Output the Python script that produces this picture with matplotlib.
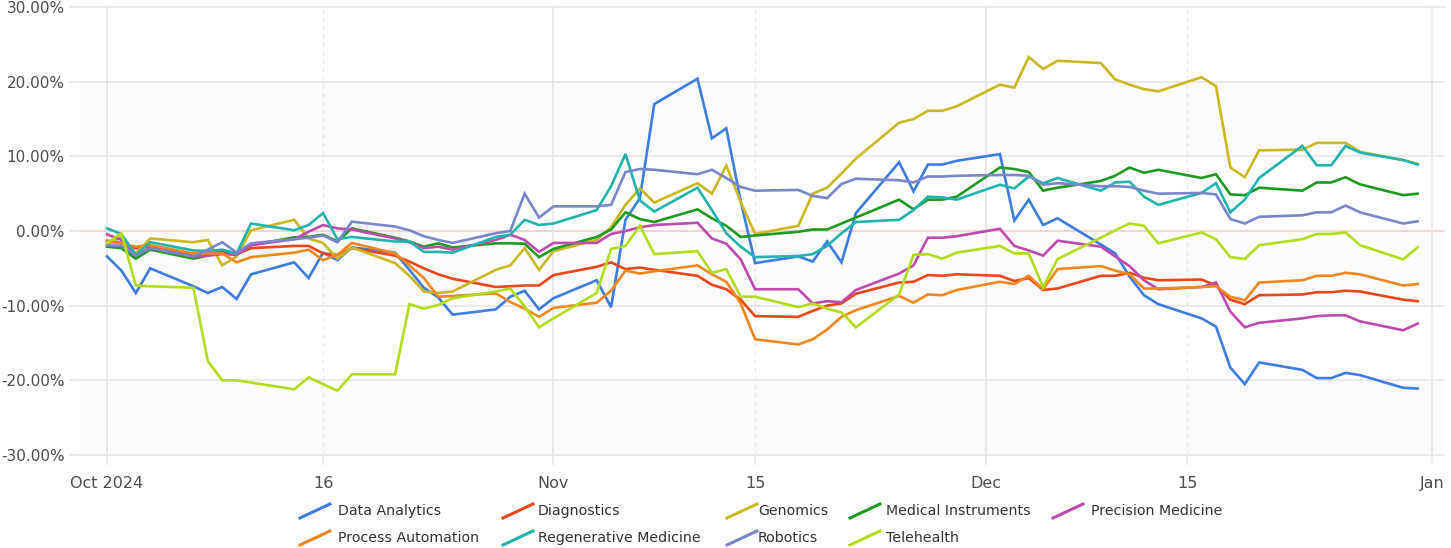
import numpy as np
import pandas as pd
import matplotlib
matplotlib.use('Agg')
import matplotlib.pyplot as plt
import matplotlib.dates as mdates
from matplotlib.lines import Line2D

# business days Oct 1 - Dec 31 2024
dates = pd.bdate_range('2024-10-01', '2024-12-31')

# cumulative return (%) per sector
data_analytics = [-3.4, -5.3, -8.3, -5.0, -7.4, -8.3, -7.5, -9.1, -5.8, -4.2, -6.3, -2.9, -3.9, -2.2, -2.9, -5.2, -7.6, -8.9, -11.2, -10.5, -8.8, -8.0, -10.5,
                  -9.0, -6.6, -10.2, 1.5, 4.4, 17.0, 20.4, 12.4, 13.75, 4.0, -4.3, -3.4, -4.1, -1.4, -4.2, 2.4, 9.2, 5.3, 8.9, 8.9, 9.4,
                  10.3, 1.4, 4.2, 0.8, 1.7, -1.8, -3.0, -6.1, -8.6, -9.8, -11.7, -12.8, -18.3, -20.5, -17.6, -18.6, -19.7, -19.7, -19.0, -19.3, -21.0, -21.1]
diagnostics = [-1.3, -1.6, -2.3, -2.1, -3.2, -3.0, -2.8, -3.1, -2.3, -2.0, -2.0, -3.0, -3.2, -2.3, -3.3, -4.1, -5.0, -5.8, -6.4, -7.5, -7.4, -7.3, -7.3,
               -5.9, -4.8, -4.2, -5.1, -4.9, -5.2, -6.0, -7.2, -7.8, -9.2, -11.4, -11.5, -10.7, -10.0, -9.7, -8.4, -6.9, -6.8, -5.9, -6.0, -5.8,
               -6.0, -6.7, -6.3, -7.9, -7.7, -6.0, -6.0, -5.6, -6.25, -6.6, -6.5, -7.3, -9.2, -9.8, -8.6, -8.5, -8.2, -8.2, -8.0, -8.1, -9.2, -9.4]
genomics = [-1.8, -0.8, -3.0, -1.0, -1.5, -1.2, -4.6, -3.4, 0.1, 1.5, -1.0, -1.6, -3.7, -2.2, -4.3, -6.0, -8.1, -8.3, -8.1, -5.2, -4.6, -2.3, -5.2,
            -2.7, -1.2, 0.5, 3.5, 5.7, 3.8, 6.4, 5.0, 8.75, 3.9, -0.4, 0.7, 5.0, 5.8, 7.7, 9.7, 14.5, 15.0, 16.1, 16.1, 16.7,
            19.6, 19.2, 23.3, 21.7, 22.8, 22.5, 20.3, 19.6, 19.0, 18.7, 20.6, 19.4, 8.5, 7.2, 10.8, 10.9, 11.8, 11.8, 11.8, 10.6, 9.5, 9.0]
medical_instruments = [-2.1, -2.3, -3.7, -2.5, -3.7, -3.3, -2.6, -3.1, -1.9, -0.85, -0.8, -0.5, -1.4, 0.35, -0.9, -1.4, -2.1, -1.65, -2.2, -1.65, -1.65, -1.7, -3.5,
                       -2.4, -0.8, 0.2, 2.5, 1.6, 1.2, 2.9, 1.7, 0.7, -0.8, -0.6, -0.1, 0.2, 0.2, 1.0, 1.8, 4.2, 2.9, 4.2, 4.2, 4.6,
                       8.5, 8.3, 7.9, 5.4, 5.8, 6.7, 7.4, 8.5, 7.8, 8.2, 7.1, 7.6, 4.9, 4.8, 5.8, 5.4, 6.5, 6.5, 7.2, 6.25, 4.8, 5.0]
precision_medicine = [-0.45, -1.2, -3.2, -2.3, -3.4, -3.3, -3.1, -3.2, -1.9, -1.1, -0.1, 0.8, 0.35, 0.2, -1.0, -1.5, -2.3, -2.1, -2.5, -1.2, -0.5, -1.2, -2.8,
                      -1.6, -1.6, -0.4, 0.0, 0.5, 0.8, 1.1, -1.0, -1.7, -3.8, -7.8, -7.8, -9.7, -9.4, -9.55, -7.9, -5.7, -4.6, -0.9, -0.9, -0.7,
                      0.3, -2.0, -2.6, -3.3, -1.3, -2.1, -3.4, -4.7, -6.6, -7.8, -7.5, -6.9, -10.8, -12.9, -12.3, -11.7, -11.4, -11.3, -11.3, -12.1, -13.3, -12.4]
process_automation = [-1.4, -1.7, -2.1, -1.9, -3.0, -3.0, -3.0, -4.2, -3.5, -2.9, -2.5, -3.9, -3.2, -1.6, -3.0, -4.6, -6.3, -8.8, -8.7, -8.35, -9.5, -10.4, -11.5,
                      -10.3, -9.6, -8.0, -5.3, -5.7, -5.4, -4.6, -5.8, -6.8, -9.7, -14.5, -15.2, -14.5, -13.2, -11.5, -10.6, -8.7, -9.6, -8.5, -8.6, -7.9,
                      -6.8, -7.1, -6.0, -7.8, -5.1, -4.7, -5.3, -5.8, -7.7, -7.7, -7.5, -7.4, -8.8, -9.3, -6.9, -6.6, -6.0, -6.0, -5.6, -5.8, -7.3, -7.1]
regenerative_medicine = [0.35, -0.4, -3.2, -1.5, -2.6, -2.7, -2.5, -3.0, 1.0, 0.1, 0.8, 2.4, -1.1, -0.8, -1.4, -1.4, -2.8, -2.8, -2.9, -0.8, -0.5, 1.5, 0.8,
                         1.0, 2.8, 6.0, 10.3, 4.1, 2.6, 5.8, 2.8, -0.3, -2.1, -3.5, -3.35, -3.1, -2.0, -0.3, 1.2, 1.5, 2.8, 4.6, 4.5, 4.2,
                         6.2, 5.7, 7.3, 6.4, 7.1, 5.4, 6.5, 6.6, 4.6, 3.5, 5.1, 6.4, 2.5, 4.2, 7.1, 11.4, 8.8, 8.8, 11.4, 10.5, 9.5, 8.9]
robotics = [-1.9, -2.0, -3.3, -2.3, -3.4, -2.5, -1.5, -2.9, -1.65, -1.1, -0.9, -0.6, -1.5, 1.25, 0.6, 0.1, -0.7, -1.2, -1.6, -0.3, 0.0, 5.0, 1.8,
            3.3, 3.3, 3.5, 7.9, 8.3, 8.2, 7.6, 8.2, 7.1, 5.9, 5.4, 5.5, 4.7, 4.4, 6.3, 7.0, 6.8, 6.5, 7.3, 7.3, 7.4,
            7.5, 7.5, 7.4, 6.2, 6.4, 6.0, 6.0, 5.9, 5.4, 5.0, 5.1, 4.9, 1.6, 1.0, 1.9, 2.1, 2.5, 2.5, 3.4, 2.5, 1.0, 1.3]
telehealth = [-1.6, -0.3, -7.3, -7.4, -7.6, -17.4, -20.0, -20.0, -20.3, -21.2, -19.6, -20.5, -21.4, -19.2, -19.2, -9.8, -10.4, -9.9, -9.0, -8.1, -7.7, -10.1, -12.9,
              -11.7, -8.3, -2.4, -2.0, 0.7, -3.1, -2.7, -5.6, -5.1, -8.8, -8.8, -10.2, -9.7, -10.4, -10.9, -12.9, -8.5, -3.2, -3.1, -3.7, -2.9,
              -2.0, -3.0, -3.0, -7.5, -3.75, -0.9, 0.1, 1.0, 0.7, -1.65, -0.2, -1.1, -3.5, -3.75, -1.9, -1.1, -0.4, -0.4, -0.2, -1.9, -3.8, -2.2]

names = ['Data Analytics', 'Diagnostics', 'Genomics', 'Medical Instruments', 'Precision Medicine',
         'Process Automation', 'Regenerative Medicine', 'Robotics', 'Telehealth']
series = [data_analytics, diagnostics, genomics, medical_instruments, precision_medicine,
          process_automation, regenerative_medicine, robotics, telehealth]
colors = ['#3d7de0', '#e8481c', '#c9b820', '#1e9a1e', '#c04bb0',
          '#f0891d', '#1fb5ae', '#7b86c9', '#b2dc1b']

yticks = [-30, -20, -10, 0, 10, 20, 30]
xtick_dates = ['2024-10-01', '2024-10-16', '2024-11-01', '2024-11-15', '2024-12-01', '2024-12-15', '2025-01-01']
xtick_labels = ['Oct 2024', '16', 'Nov', '15', 'Dec', '15', 'Jan']

W, H = 1451, 548
plt.rcParams['font.family'] = ['DejaVu Sans']
plt.rcParams['axes.unicode_minus'] = False
fig = plt.figure(figsize=(W / 100, H / 100), dpi=100, facecolor='w')
ax = fig.add_axes([80 / W, (H - 455) / H, (1444 - 80) / W, (455 - 7) / H])

pxday = 1325 / 92.0
x0 = mdates.date2num(pd.Timestamp('2024-10-01'))
x1 = mdates.date2num(pd.Timestamp('2025-01-01'))
ax.set_xlim(x0 - 27 / pxday, x1 + 12 / pxday)
ax.set_ylim(-30, 30)

# faint alternating bands
for lo, hi in [(10, 20), (-10, 0), (-30, -20)]:
    ax.axhspan(lo, hi, color='#fbfbfb', zorder=0, lw=0)

grid = '#e6e6e6'
for v in yticks:
    if v == 0:
        ax.axhline(0, color='#f4cccc', lw=1.2, zorder=1, clip_on=False)
    else:
        ax.axhline(v, color=grid, lw=1.2, zorder=1, clip_on=False)
for i, d in enumerate(xtick_dates):
    xd = mdates.date2num(pd.Timestamp(d))
    if i % 2 == 0:
        ax.axvline(xd, color=grid, lw=1.2, zorder=1)
    else:
        ax.axvline(xd, color=grid, lw=1.0, ls=(0, (3, 3)), zorder=1)

for name, vals, c in zip(names, series, colors):
    ax.plot(dates, vals, color=c, lw=1.9, zorder=3, solid_joinstyle='miter')

ax.set_yticks(yticks)
ax.set_yticklabels(['%.2f%%' % v for v in yticks])
ax.set_xticks([mdates.date2num(pd.Timestamp(d)) for d in xtick_dates])
ax.set_xticklabels(xtick_labels)
ax.tick_params(axis='both', colors=grid, width=1.2, labelcolor='#4d4d4d')
ax.tick_params(axis='y', length=8, pad=3, labelsize=11)
ax.tick_params(axis='x', length=7, pad=8, labelsize=11.5)
for s in ax.spines.values():
    s.set_visible(False)

# legend, two rows of five columns
icon_x = [300, 503, 727, 850, 1053]
text_x = [338, 538, 758, 886, 1091]
row_y = [511, 538]
for k, (name, c) in enumerate(zip(names, colors)):
    r, col = divmod(k, 5)
    yc = row_y[r]
    xi = icon_x[col]
    fig.add_artist(Line2D([xi / W, (xi + 30) / W], [1 - (yc + 7) / H, 1 - (yc - 7) / H],
                          color=c, lw=2.2, transform=fig.transFigure))
    fig.text(text_x[col] / W, 1 - yc / H, name, fontsize=10.2, color='#333333',
             va='center', ha='left')

fig.savefig('out.png', dpi=100, facecolor='w')
